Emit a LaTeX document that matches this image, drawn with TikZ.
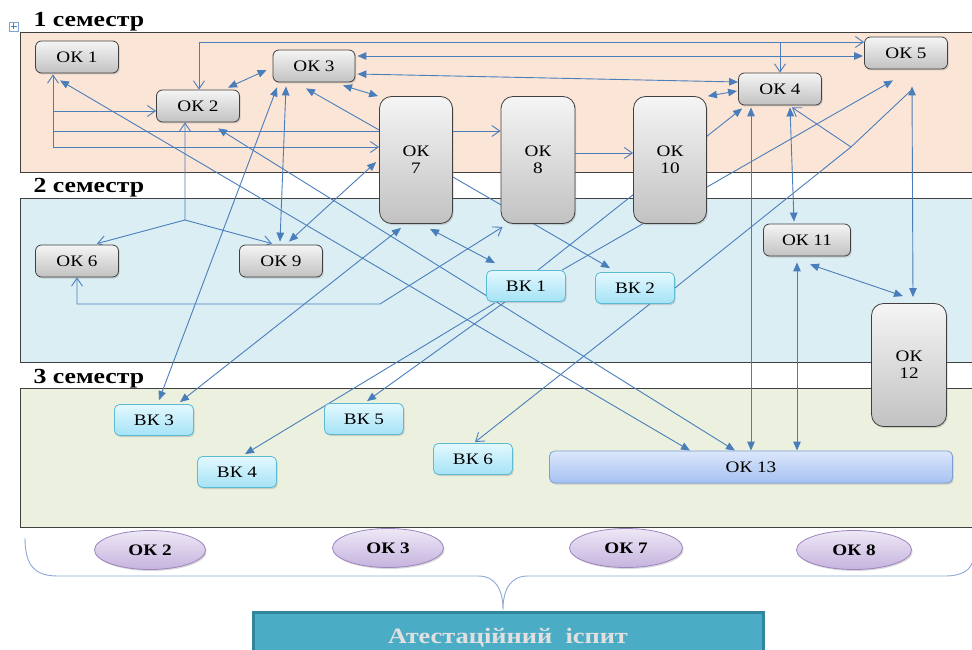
\documentclass[tikz,border=0pt]{standalone}
\usepackage{fontspec}
\setmainfont[FakeStretch=1.2]{Liberation Serif}
\usetikzlibrary{arrows.meta,shadows,shapes.geometric,calc}
\definecolor{lnc}{HTML}{4A7EBB}
\definecolor{bandA}{HTML}{FBE5D6}
\definecolor{bandB}{HTML}{DBEEF4}
\definecolor{bandC}{HTML}{EBF1DE}
\definecolor{vkTop}{HTML}{E3F8FE}
\definecolor{vkBot}{HTML}{A5E3F6}
\definecolor{vkLine}{HTML}{5DBAD3}
\definecolor{okTop}{HTML}{DCE7FB}
\definecolor{okBot}{HTML}{A6C1F2}
\definecolor{okLine}{HTML}{7C9ED4}
\definecolor{elTop}{HTML}{EEE8F6}
\definecolor{elBot}{HTML}{C5B3DE}
\definecolor{elLine}{HTML}{9D86BF}
\definecolor{exFill}{HTML}{4BACC6}
\definecolor{exLine}{HTML}{31859C}
\definecolor{braceC}{HTML}{8DAAD4}
\pgfdeclarelayer{back}
\pgfdeclarelayer{mid}
\pgfsetlayers{back,mid,main}
\tikzset{
  boxfont/.style={font=\fontsize{16}{17}\selectfont},
  shd/.style={drop shadow={shadow xshift=1.2pt,shadow yshift=-1.5pt,opacity=0.3}},
  gbox/.style={boxfont,draw=black!75,line width=0.8pt,rounded corners=6pt,top color=gray!8,bottom color=gray!48,minimum width=83pt,minimum height=32pt,inner sep=0pt,shd},
  tbox/.style={gbox,minimum width=73pt,minimum height=127pt,align=center,rounded corners=12pt},
  vbox/.style={boxfont,draw=vkLine,line width=0.8pt,rounded corners=5pt,top color=vkTop,bottom color=vkBot,minimum width=79pt,minimum height=31pt,inner sep=0pt,shd},
  obox/.style={boxfont,draw=okLine,line width=0.8pt,rounded corners=5pt,top color=okTop,bottom color=okBot,minimum width=403pt,minimum height=32pt,inner sep=0pt,shd},
  ell/.style={ellipse,draw=elLine,line width=0.8pt,top color=elTop,bottom color=elBot,minimum width=111pt,minimum height=39pt,inner sep=0pt,font=\bfseries\fontsize{16}{18}\selectfont,shd},
  band/.style={draw=black!75,line width=0.8pt},
  sem/.style={anchor=base west,font=\bfseries\fontsize{21.5}{23}\selectfont},
  ln/.style={draw=lnc,line width=0.9pt},
  fa/.tip={Triangle[length=9pt,width=7.5pt]},
  oa/.tip={Straight Barb[length=8pt,width=11pt]},
}
\begin{document}
\begin{tikzpicture}[x=1pt,y=-1pt]
\useasboundingbox (0,0) rectangle (972,650);
% bands
\begin{pgfonlayer}{back}
\fill[white] (0,0) rectangle (972,650);
\path[band,fill=bandA] (20,32) rectangle (975,172);
\path[band,fill=bandB] (20,198) rectangle (975,362);
\path[band,fill=bandC] (20,388) rectangle (975,527);
\draw[lnc!70,line width=0.5pt] (9,22) rectangle (18,31);
\draw[lnc,line width=0.6pt] (13.5,23.5) -- (13.5,29.5) (10.5,26.5) -- (16.5,26.5);
\end{pgfonlayer}
\node[sem] (s1) at (30,27) {1 семестр};
\node[sem] (s2) at (30,193) {2 семестр};
\node[sem] (s3) at (30,383) {3 семестр};
% nodes
\node[gbox] (ok1) at (77,57) {ОК 1};
\node[gbox] (ok2) at (198,106) {ОК 2};
\node[gbox,minimum width=82pt] (ok3) at (314,66) {ОК 3};
\node[gbox] (ok4) at (780,89) {ОК 4};
\node[gbox] (ok5) at (906,53) {ОК 5};
\node[tbox] (ok7) at (416,160) {ОК\\7};
\node[tbox,minimum width=74pt] (ok8) at (538,160) {ОК\\8};
\node[tbox] (ok10) at (670,160) {ОК\\10};
\node[gbox] (ok6) at (77,261) {ОК 6};
\node[gbox] (ok9) at (281,261) {ОК 9};
\node[gbox,minimum width=87pt] (ok11) at (807,240) {ОК 11};
\node[tbox,minimum width=75pt,minimum height=123pt] (ok12) at (909,365) {ОК\\12};
\node[vbox] (vk1) at (526,286) {ВК 1};
\node[vbox] (vk2) at (635,288) {ВК 2};
\node[vbox] (vk3) at (154,420) {ВК 3};
\node[vbox] (vk4) at (237,472) {ВК 4};
\node[vbox] (vk5) at (364,419) {ВК 5};
\node[vbox] (vk6) at (473,459) {ВК 6};
\node[obox] (ok13) at (751,467) {ОК 13};
\node[ell] (e2) at (150,550) {ОК 2};
\node[ell] (e3) at (388,548) {ОК 3};
\node[ell,minimum width=113pt] (e7) at (626,548) {ОК 7};
\node[ell,minimum width=115pt] (e8) at (854,550) {ОК 8};
\node[draw=exLine,line width=3pt,fill=exFill,minimum width=510pt,minimum height=52pt,text=white!88!black,font=\bfseries\fontsize{22}{24}\selectfont] (ex) at (508,638) {Атестаційний\ \ іспит};
% connectors
\begin{pgfonlayer}{mid}
\coordinate (t1) at (199,42);
\draw[ln,oa-oa] (ok2.north -| t1) -- (t1) -- (t1 -| ok5.west);
\draw[ln,-oa] (t1 -| ok4.north) -- (ok4.north);
\draw[ln,fa-fa] ([xshift=2pt,yshift=10pt]ok3.east) -- ([xshift=-1pt,yshift=-3pt]ok5.west);
\draw[ln,fa-fa] ([xshift=2pt,yshift=-8pt]ok3.east) -- ([yshift=7pt]ok4.west);
\draw[ln,fa-fa] ([xshift=1pt]ok10.north east) -- ([xshift=-1pt,yshift=-2pt]ok4.west);
\draw[ln,-fa] ([xshift=12pt]vk1.north) -- ($(ok4.south west)+(4,3)$);
\draw[ln,-fa] ([xshift=36pt]vk1.north) -- ($(ok5.south)+(-13,11)$);
\draw[ln,fa-fa] ($(ok4.south)+(-29,2)$) -- (ok13.north);
\draw[ln,fa-fa] ($(ok4.south)+(10,2)$) -- ($(ok11.north)+(-13,-2)$);
\coordinate (v) at (851,147);
\draw[ln,-oa] (vk2.east) -- (v) -- ($(ok4.south)+(12,2)$);
\draw[ln] (v) -- ($(ok5.south)+(4,22)$);
\draw[ln,fa-fa] ($(ok5.south)+(6,17)$) -- ($(ok12.north)+(4,-6)$);
\draw[ln,fa-fa] ($(ok11.south)+(3,8)$) -- ($(ok12.north)+(-6,-7)$);
\draw[ln,fa-fa] ($(ok11.south)+(-10,6)$) -- ($(ok13.north)+(46,0)$);
\draw[ln,fa-fa] ($(ok1.south)+(-17,7)$) -- ($(ok13.north)+(-61,0)$);
\draw[ln,fa-fa] ($(ok2.south)+(20,6)$) -- ($(ok13.north)+(-16,0)$);
\coordinate (c1) at (53,147);
\draw[ln,oa-oa] ($(ok1.south)+(-24,1)$) -- (c1) -- (c1 -| ok7.west);
\coordinate (a2) at ([yshift=-5pt]ok2.west);
\draw[ln,-oa] (c1 |- a2) -- (a2);
\coordinate (a8) at ([yshift=29pt]ok8.west);
\draw[ln,-oa] (c1 |- a8) -- (a8);
\draw[ln,fa-fa] ($(ok2.north)+(30,-2)$) -- ($(ok3.west)+(-6,4)$);
\draw[ln,fa-fa] ($(ok3.south)+(29,3)$) -- ($(ok7.north west)+(-1,0)$);
\draw[ln,-fa] ($(ok7.west)+(0,-30)$) -- ($(ok3.south)+(-8,6)$);
\draw[ln,fa-fa] ($(ok3.south)+(-28,4)$) -- ($(ok9.north)+(-1,-3)$);
\draw[ln,fa-fa] ($(ok3.south)+(-37,5)$) -- ($(vk3.north)+(5,-4)$);
\draw[ln,fa-fa] ($(ok9.north)+(8,-3)$) -- ($(ok7.west)+(-3,2)$);
\draw[ln,fa-fa] ($(ok7.south)+(-15,4)$) -- ($(vk3.north)+(26,-2)$);
\draw[ln,fa-fa] ($(ok7.south)+(14,5)$) -- ($(vk1.north)+(-31,-7)$);
\coordinate (p1) at (380,304);
\draw[ln,oa-oa] ($(ok8.south west)+(2,3)$) -- (p1) -- (p1 -| ok6.south) -- (ok6.south);
\coordinate (b) at (185,220);
\draw[ln,oa-oa] (ok2.south -| b) -- (b) -- ($(ok6.north)+(20,-1)$);
\draw[ln,-oa] (b) -- ($(ok9.north)+(-9,-1)$);
\draw[ln,-fa] ($(ok7.east)+(0,17)$) -- ($(vk2.north)+(-25,-4)$);
\draw[ln,-oa] ($(ok8.east)+(0,-7)$) -- ($(ok10.west)+(0,-7)$);
\draw[ln,-fa] ($(vk1.south)+(-21,0)$) -- ($(vk5.north)+(3,-2)$);
\draw[ln,-fa] ($(vk1.south)+(-31,1)$) -- ($(vk4.north)+(8,-2)$);
\draw[ln,-oa] ($(vk2.south)+(15,0)$) -- ($(vk6.north)+(2,-1)$);
\draw[braceC,line width=0.9pt] (25,538) .. controls (25,566) and (35,576) .. (58,576) -- (478,576) .. controls (496,576) and (503,590) .. (503,610) .. controls (503,590) and (510,576) .. (528,576) -- (945,576) .. controls (962,576) and (971,570) .. (973,560);
\end{pgfonlayer}
\end{tikzpicture}
\end{document}
